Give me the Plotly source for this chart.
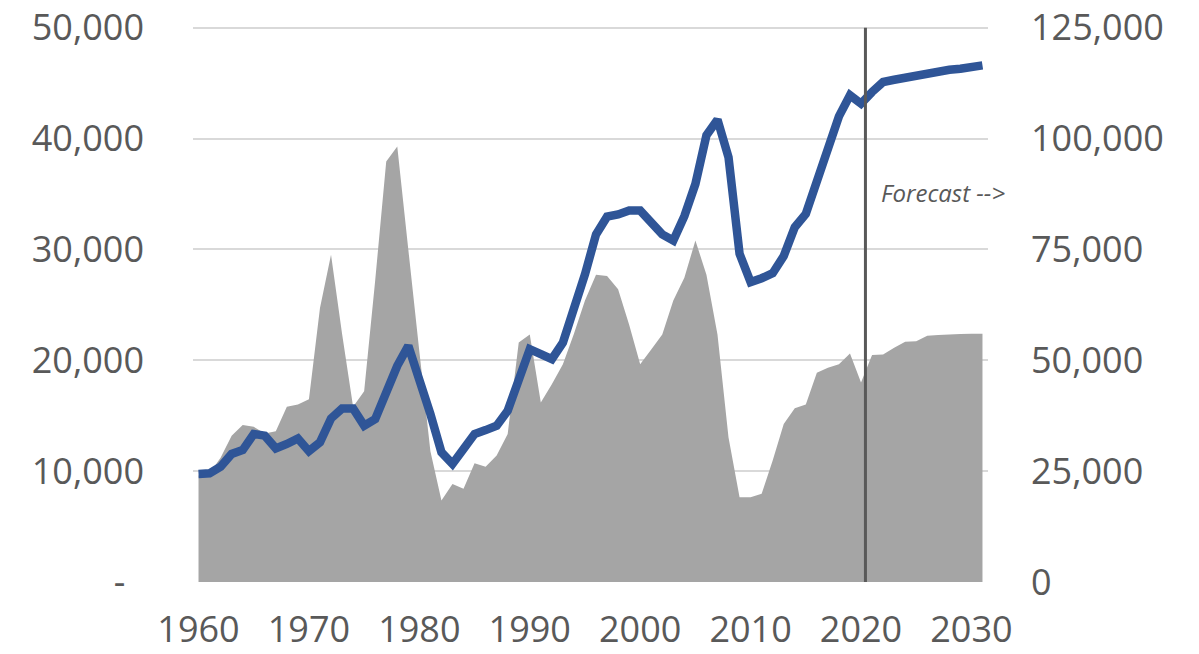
import plotly.graph_objects as go

years = list(range(1960, 2032))

# Left axis series (blue line)
line_values = [
    9750, 9800, 10400, 11550, 11900, 13350, 13200, 12050, 12450, 12950,
    11800, 12600, 14750, 15650, 15650, 14100, 14700, 17100, 19500, 21300,
    18450, 15150, 11700, 10650, 12000, 13350, 13700, 14100, 15450, 18150,
    21000, 20550, 20100, 21600, 24450, 27750, 31350, 32950, 33150, 33500,
    33500, 32350, 31350, 30800, 33000, 35900, 40300, 41700, 38300, 29600,
    27050, 27400, 27850, 29400, 32000, 33200, 36200, 39300, 42000, 43900,
    43150, 44200, 45100, 45300, 45500, 45650, 45850, 46100, 46200, 46300,
    46450, 46600,
]

# Right axis series (gray area)
area_values = [
    24000, 24500, 28000, 33000, 35400, 35000, 33500, 34000, 39500, 40000,
    41200, 61800, 73800, 56000, 39500, 43000, 68000, 94800, 98200, 75000,
    52000, 29500, 18400, 22100, 21000, 26800, 26000, 28500, 33400, 54000,
    55800, 40500, 44600, 49100, 56000, 63500, 69300, 69000, 66000, 58000,
    49100, 52400, 55800, 63500, 68600, 77000, 69300, 55800, 32600, 19100,
    19100, 19900, 27400, 35600, 39200, 40000, 47200, 48300, 49100, 51500,
    45000, 51200, 51300, 52800, 54200, 54300, 55500, 55700, 55800, 55900,
    56000, 56000,
]

x_ticks = [1960, 1970, 1980, 1990, 2000, 2010, 2020, 2030]
x_labels = ["1960", "1970", "1980", "1990", "2000", "2010", "2020", "2030"]
left_ticks = [0, 10000, 20000, 30000, 40000, 50000]
left_labels = ["-\u00a0\u00a0", "10,000", "20,000", "30,000", "40,000", "50,000"]
right_ticks = [0, 25000, 50000, 75000, 100000, 125000]
right_labels = ["0", "25,000", "50,000", "75,000", "100,000", "125,000"]
forecast_year = 2020.4
forecast_text = "Forecast -->"

TEXT = "#595959"
FONT = "Open Sans"
TICK_SIZE = 36
PAD = 1.012  # small headroom above the top tick

fig = go.Figure()
fig.add_trace(go.Scatter(
    x=years, y=area_values, yaxis="y", mode="none",
    fill="tozeroy", fillcolor="#A5A5A5", hoverinfo="skip", showlegend=False,
))
fig.add_trace(go.Scatter(
    x=years, y=line_values, yaxis="y2", mode="lines",
    line=dict(color="#2F5597", width=8.5), showlegend=False,
))

fig.add_shape(
    type="line", xref="x", yref="y",
    x0=forecast_year, x1=forecast_year, y0=0, y1=right_ticks[-1],
    line=dict(color="#595959", width=3), layer="above",
)

fig.add_annotation(
    x=2021.6, y=0.703 * right_ticks[-1], xref="x", yref="y",
    text=forecast_text, showarrow=False, xanchor="left", yanchor="middle",
    font=dict(family=FONT, size=24, color=TEXT, style="italic"),
)

fig.update_layout(
    width=1199, height=654,
    margin=dict(l=193, r=211, t=21, b=72),
    paper_bgcolor="white", plot_bgcolor="white",
    showlegend=False,
    font=dict(family=FONT, size=TICK_SIZE, color=TEXT),
    xaxis=dict(
        range=[1959.5, 2031.5], tickmode="array", tickvals=x_ticks, ticktext=x_labels,
        showgrid=False, zeroline=False, showline=False, ticks="",
        tickfont=dict(family=FONT, size=TICK_SIZE, color=TEXT),
        ticklabelstandoff=23, automargin=False, ticklabeloverflow="allow",
    ),
    yaxis=dict(
        side="right", range=[0, right_ticks[-1] * PAD], tickmode="array",
        tickvals=right_ticks, ticktext=right_labels,
        showgrid=True, gridcolor="#D9D9D9", gridwidth=1.5,
        zeroline=False, showline=False, ticks="",
        tickfont=dict(family=FONT, size=TICK_SIZE, color=TEXT),
        ticklabelstandoff=42, automargin=False, ticklabeloverflow="allow",
    ),
    yaxis2=dict(
        overlaying="y", side="left", range=[0, left_ticks[-1] * PAD], tickmode="array",
        tickvals=left_ticks, ticktext=left_labels,
        showgrid=False, zeroline=False, showline=False, ticks="",
        tickfont=dict(family=FONT, size=TICK_SIZE, color=TEXT),
        ticklabelstandoff=48, automargin=False, ticklabeloverflow="allow",
    ),
)

fig.write_html("out.html")
